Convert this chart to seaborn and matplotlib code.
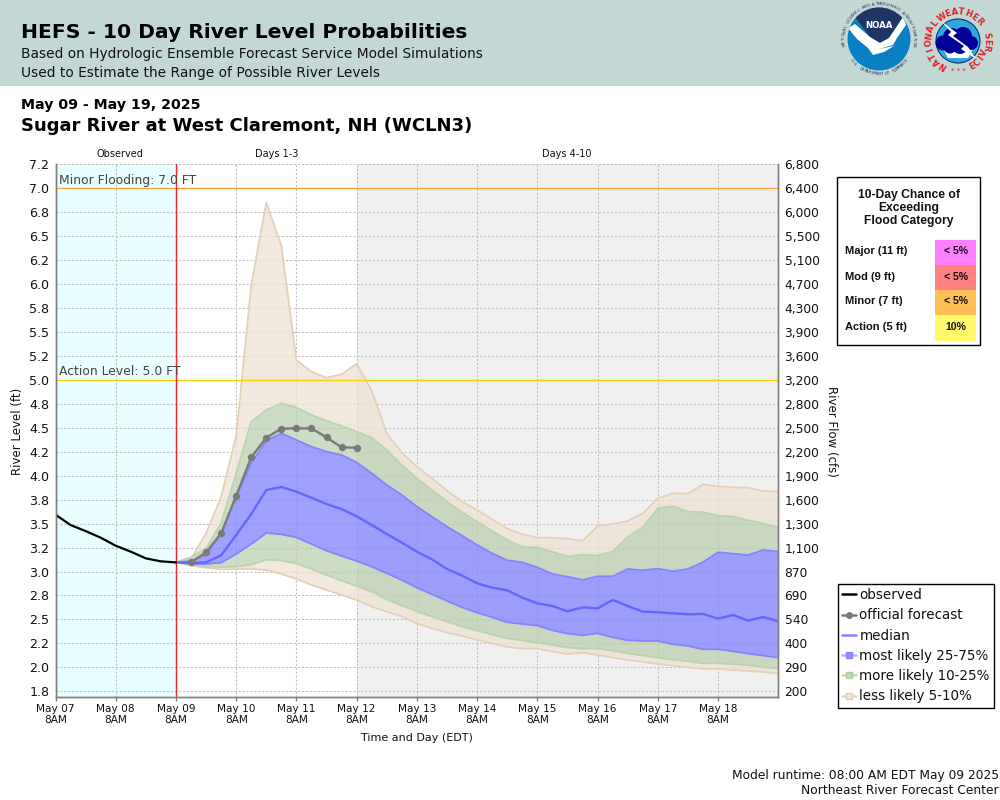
import numpy as np
import pandas as pd
import matplotlib
matplotlib.use("Agg")
import matplotlib.pyplot as plt
import seaborn as sns
from matplotlib.lines import Line2D
from matplotlib.patches import Circle, Polygon, Rectangle

# observed stage every 6 hours from May 07 8AM
observed_level = [3.593, 3.485, 3.422, 3.353, 3.269, 3.207, 3.137, 3.106, 3.095]

# official forecast, every 6 hours from May 09 2PM
official_level = [3.096, 3.20, 3.398, 3.791, 4.192, 4.397, 4.491, 4.494, 4.494, 4.40, 4.296, 4.292]

# ensemble percentiles, every 6 hours from May 09 8AM
p95 = [3.096, 3.13, 3.40, 3.78, 4.41, 5.99, 6.853, 6.397, 5.207, 5.086, 5.023, 5.058, 5.169, 4.887,
       4.442, 4.240, 4.094, 3.972, 3.844, 3.729, 3.642, 3.544, 3.447, 3.391, 3.353, 3.353, 3.343, 3.319,
       3.475, 3.496, 3.527, 3.607, 3.764, 3.816, 3.813, 3.910, 3.889, 3.879, 3.875, 3.840, 3.834]
p90 = [3.096, 3.148, 3.242, 3.503, 4.025, 4.564, 4.686, 4.755, 4.713, 4.633, 4.574, 4.519, 4.459, 4.397,
       4.268, 4.112, 3.972, 3.851, 3.729, 3.618, 3.520, 3.423, 3.329, 3.259, 3.252, 3.207, 3.155, 3.176,
       3.166, 3.207, 3.364, 3.461, 3.660, 3.680, 3.625, 3.621, 3.583, 3.573, 3.534, 3.503, 3.461]
p75 = [3.096, 3.11, 3.172, 3.398, 3.781, 4.129, 4.366, 4.442, 4.372, 4.303, 4.251, 4.216, 4.139, 4.025,
       3.903, 3.799, 3.677, 3.572, 3.468, 3.374, 3.277, 3.190, 3.117, 3.096, 3.044, 2.974, 2.946, 2.912,
       2.950, 2.950, 3.026, 3.012, 3.030, 3.002, 3.026, 3.099, 3.200, 3.186, 3.172, 3.225, 3.207]
median = [3.096, 3.089, 3.096, 3.169, 3.381, 3.600, 3.851, 3.882, 3.833, 3.770, 3.704, 3.652, 3.576, 3.485,
          3.391, 3.301, 3.207, 3.127, 3.026, 2.957, 2.877, 2.831, 2.803, 2.727, 2.668, 2.640, 2.584, 2.626,
          2.616, 2.703, 2.640, 2.581, 2.574, 2.564, 2.553, 2.557, 2.508, 2.546, 2.487, 2.525, 2.480]
p25 = [3.096, 3.078, 3.078, 3.092, 3.182, 3.287, 3.402, 3.388, 3.356, 3.287, 3.217, 3.162, 3.109, 3.05,
       2.981, 2.911, 2.831, 2.762, 2.692, 2.626, 2.570, 2.522, 2.470, 2.452, 2.435, 2.386, 2.351, 2.334,
       2.355, 2.313, 2.282, 2.275, 2.275, 2.240, 2.223, 2.188, 2.188, 2.167, 2.143, 2.122, 2.101]
p10 = [3.096, 3.068, 3.05, 3.047, 3.05, 3.071, 3.123, 3.113, 3.085, 3.026, 2.963, 2.904, 2.848, 2.789,
       2.710, 2.643, 2.584, 2.529, 2.477, 2.424, 2.383, 2.341, 2.303, 2.278, 2.257, 2.233, 2.205, 2.195,
       2.195, 2.174, 2.146, 2.122, 2.101, 2.080, 2.063, 2.042, 2.042, 2.031, 2.024, 2.000, 1.990]
p05 = [3.096, 3.061, 3.04, 3.022, 3.026, 3.029, 3.015, 2.974, 2.922, 2.859, 2.807, 2.755, 2.702, 2.633,
       2.581, 2.529, 2.459, 2.407, 2.362, 2.327, 2.285, 2.250, 2.212, 2.195, 2.195, 2.163, 2.139, 2.153,
       2.129, 2.101, 2.077, 2.056, 2.035, 2.017, 2.000, 1.983, 1.983, 1.972, 1.962, 1.951, 1.934]

level_ticks = [7.25, 7.0, 6.75, 6.5, 6.25, 6.0, 5.75, 5.5, 5.25, 5.0, 4.75, 4.5,
               4.25, 4.0, 3.75, 3.5, 3.25, 3.0, 2.75, 2.5, 2.25, 2.0, 1.75]
flow_labels = ["6,800", "6,400", "6,000", "5,500", "5,100", "4,700", "4,300", "3,900", "3,600", "3,200",
               "2,800", "2,500", "2,200", "1,900", "1,600", "1,300", "1,100", "870", "690", "540", "400", "290", "200"]
day_labels = ["May 07", "May 08", "May 09", "May 10", "May 11", "May 12",
              "May 13", "May 14", "May 15", "May 16", "May 17", "May 18"]

flood_names = ["Major (11 ft)", "Mod (9 ft)", "Minor (7 ft)", "Action (5 ft)"]
flood_chance = ["< 5%", "< 5%", "< 5%", "10%"]
flood_colors = ["#ff80ff", "#ff8080", "#ffbf55", "#fff868"]

TAN = "#ede1d3"
GREEN = "#bbcfb0"
BLUE = "#8888ff"
TAN_EDGE = "#e5d0b8"
GREEN_EDGE = "#bcd4ad"
BLUE_EDGE = "#8484ff"
GRAY = "#808080"
HEADER = "#c3d7d4"

obs_times = pd.date_range("2025-05-07 08:00", periods=len(observed_level), freq="6h")
fc_times = pd.date_range("2025-05-09 08:00", periods=len(median), freq="6h")
official_times = fc_times[1:len(official_level) + 1]
day_ticks = pd.date_range("2025-05-07 08:00", periods=len(day_labels), freq="D")

obs_df = pd.DataFrame({"time": obs_times, "level": observed_level})
official_df = pd.DataFrame({"time": official_times, "level": official_level})
median_df = pd.DataFrame({"time": fc_times, "level": median})

sns.set_theme(style="white")
plt.rcParams["font.family"] = ["DejaVu Sans"]

fig = plt.figure(figsize=(10, 8), dpi=100)

# page furniture is placed in pixels of the 1000x800 picture
page = fig.add_axes([0, 0, 1, 1], zorder=0)
page.set_xlim(0, 1000)
page.set_ylim(800, 0)
page.axis("off")
page.add_patch(Rectangle((0, 0), 1000, 86, color=HEADER, lw=0))
page.text(21, 33, "HEFS - 10 Day River Level Probabilities", fontsize=14.6, fontweight="bold", va="center", color="#000000")
page.text(21, 54, "Based on Hydrologic Ensemble Forecast Service Model Simulations", fontsize=9.9, va="center", color="#111111")
page.text(21, 73, "Used to Estimate the Range of Possible River Levels", fontsize=9.9, va="center", color="#111111")
page.text(21, 105, "May 09 - May 19, 2025", fontsize=10.2, fontweight="bold", va="center", color="#000000")
page.text(21, 126, "Sugar River at West Claremont, NH (WCLN3)", fontsize=13, fontweight="bold", va="center", color="#000000")
page.text(120, 154, "Observed", fontsize=7, ha="center", va="center", color="#111111")
page.text(277, 154, "Days 1-3", fontsize=7, ha="center", va="center", color="#111111")
page.text(567, 154, "Days 4-10", fontsize=7, ha="center", va="center", color="#111111")
page.text(999, 775, "Model runtime: 08:00 AM EDT May 09 2025", fontsize=8.8, ha="right", va="center", color="#111111")
page.text(999, 791, "Northeast River Forecast Center", fontsize=8.8, ha="right", va="center", color="#111111")


def ring_text(cx, cy, r, text, start, end, size, color, weight="normal"):
    # letters spaced along an arc, angles in degrees clockwise from the top
    for ang, ch in zip(np.linspace(start, end, len(text)), text):
        a = np.radians(ang)
        page.text(cx + r * np.sin(a), cy - r * np.cos(a), ch, fontsize=size, color=color, fontweight=weight,
                  rotation=-ang if ang < 110 else 180 - ang, ha="center", va="center", rotation_mode="anchor")


# NOAA seal
cx, cy = 879, 39
disc = Circle((cx, cy), 31.5, color="#0a80c4", lw=0)
page.add_patch(disc)
navy = Polygon([(855, 17), (879, 0), (903, 17), (900, 26), (889, 38), (880, 43), (870, 37)], color="#1f3566", lw=0)
page.add_patch(navy)
navy.set_clip_path(disc)
bird = Polygon([(848, 28), (855, 24), (870, 37), (880, 43), (889, 38), (903, 17), (906, 25), (897, 38), (893, 45),
                (879, 49), (894, 46), (884, 52), (873, 55), (868, 48), (857, 39)], color="white", lw=0)
page.add_patch(bird)
bird.set_clip_path(disc)
page.text(878.5, 25, "NOAA", fontsize=6.2, fontweight="bold", color="white", ha="center", va="center")
ring_text(cx, cy, 35, "NATIONAL OCEANIC AND ATMOSPHERIC ADMINISTRATION", -100, 100, 3, "#26384f")
ring_text(cx, cy, 35, "U.S. DEPARTMENT OF COMMERCE", 232, 128, 3, "#26384f")

# NWS seal
nx, ny = 958, 41
page.add_patch(Circle((nx, ny), 22, facecolor="#2fa8dc", edgecolor="#10306f", lw=0.8))
page.add_patch(Polygon([(942, 47), (974, 47), (968, 58), (948, 58)], color="white", lw=0))
for dx, dy, rad in [(-15, 2, 7.5), (-6, -4, 9), (5, -5, 9), (13, 2, 7), (2, 5, 8), (-8, 6, 6.5)]:
    page.add_patch(Circle((nx + dx, ny + dy), rad, color="#000099", lw=0))
page.add_patch(Polygon([(941, 21), (957, 33), (953, 36), (968, 47), (976, 59), (961, 49), (964, 46), (948, 35), (951, 32)],
                       color="white", lw=0))
ring_text(nx, ny, 29, "NATIONAL", -148, -53, 6, "#e0202a", "bold")
ring_text(nx, ny, 29, "WEATHER", -34, 48, 6, "#e0202a", "bold")
ring_text(nx, ny, 29, "SERVICE", 79, 150, 6, "#e0202a", "bold")
page.text(958, 71, "* * *", fontsize=5, color="#e0202a", ha="center", va="center")

# flood category table
page.add_patch(Rectangle((837, 177), 143, 168, facecolor="white", edgecolor="black", lw=1))
for y, line in zip([195, 208, 221], ["10-Day Chance of", "Exceeding", "Flood Category"]):
    page.text(909, y, line, fontsize=8.7, fontweight="bold", family="Liberation Sans", ha="center", va="center", color="#111111")
for row, (name, chance, col) in enumerate(zip(flood_names, flood_chance, flood_colors)):
    top = 240 + 25 * row
    page.add_patch(Rectangle((935, top), 41, 25 if row < 3 else 26, color=col, lw=0))
    page.text(845, top + 11.5, name, fontsize=8, fontweight="bold", family="Liberation Sans", va="center", color="#111111")
    page.text(956, top + 11.5, chance, fontsize=7.6, fontweight="bold", family="Liberation Sans", ha="center", va="center", color="#111111")

# main chart
ax = fig.add_axes([0.0555, 1 - 697 / 800, 0.7228, (697 - 164.35) / 800], zorder=2)
ax.set_xlim(pd.Timestamp("2025-05-07 08:00"), pd.Timestamp("2025-05-19 08:00"))
ax.set_ylim(1.69, 7.25)
ax.set_facecolor("white")
ax.axvspan(pd.Timestamp("2025-05-07 08:00"), pd.Timestamp("2025-05-09 08:00"), color="#e9ffff", lw=0, zorder=0)
ax.axvspan(pd.Timestamp("2025-05-12 08:00"), pd.Timestamp("2025-05-19 08:00"), color="#f0f0f0", lw=0, zorder=0)
ax.grid(True, color="#bebebe", lw=0.75, ls=(0, (2, 1.8)))
ax.set_axisbelow(True)

for low, high, col in [(p05, p10, TAN), (p90, p95, TAN), (p10, p25, GREEN), (p75, p90, GREEN), (p25, p75, BLUE)]:
    ax.fill_between(fc_times, low, high, color=col, alpha=0.8 if col == BLUE else 0.73, lw=0, zorder=1.5)
for series, edge in [(p95, TAN_EDGE), (p05, TAN_EDGE), (p90, GREEN_EDGE), (p10, GREEN_EDGE), (p75, BLUE_EDGE), (p25, BLUE_EDGE)]:
    ax.plot(fc_times, series, color=edge, lw=1.3, zorder=1.8)

ax.axhline(7.0, color="#ffa033", lw=0.9, zorder=2)
ax.axhline(5.0, color="#ffcc00", lw=0.9, zorder=2)
ax.axvline(pd.Timestamp("2025-05-09 08:00"), color="#ff2020", lw=1, zorder=2)
ax.text(pd.Timestamp("2025-05-07 09:30"), 7.015, "Minor Flooding: 7.0 FT", fontsize=8.95, color="#444444", va="bottom")
ax.text(pd.Timestamp("2025-05-07 09:30"), 5.015, "Action Level: 5.0 FT", fontsize=8.95, color="#444444", va="bottom")

sns.lineplot(data=median_df, x="time", y="level", color="#6666ff", lw=1.7, errorbar=None, ax=ax, zorder=3)
sns.lineplot(data=official_df, x="time", y="level", color="#7a7a7a", lw=1.7, marker="o", markersize=5.3,
             markeredgewidth=0, errorbar=None, ax=ax, zorder=3.2)
sns.lineplot(data=obs_df, x="time", y="level", color="black", lw=1.6, errorbar=None, ax=ax, zorder=3.4)

ax.set_xticks(day_ticks)
ax.set_xticklabels([d + "\n8AM" for d in day_labels], fontsize=7.6, color="#111111", linespacing=1.2)
ax.set_yticks(level_ticks)
ax.set_yticklabels(["%.1f" % v for v in level_ticks], fontsize=9.1, color="#111111")
ax.tick_params(axis="x", length=3.2, width=1, color=GRAY, pad=1.5, bottom=True)
ax.tick_params(axis="y", length=0, pad=4.5, left=False)
ax.set_xlabel("Time and Day (EDT)", fontsize=8, color="#111111", labelpad=6)
ax.set_ylabel("River Level (ft)", fontsize=8.5, color="#111111", va="center")
ax.yaxis.set_label_coords(-0.052, 0.499)
for side in ["left", "right", "bottom"]:
    ax.spines[side].set_color(GRAY)
    ax.spines[side].set_linewidth(1)
ax.spines["top"].set_visible(False)

flow = ax.twinx()
flow.set_ylim(ax.get_ylim())
flow.set_yticks(level_ticks)
flow.set_yticklabels(flow_labels, fontsize=8.8, color="#111111")
flow.tick_params(axis="y", length=0, pad=4.5, right=False)
flow.set_ylabel("River Flow (cfs)", fontsize=8.5, color="#111111", rotation=270, va="center")
flow.yaxis.set_label_coords(1.073, 0.499)
flow.grid(False)
for side in ["left", "right", "bottom"]:
    flow.spines[side].set_color(GRAY)
    flow.spines[side].set_linewidth(1)
flow.spines["top"].set_visible(False)

handles = [
    Line2D([], [], color="black", lw=1.8),
    Line2D([], [], color="#7a7a7a", lw=1.8, marker="o", markersize=5, markeredgewidth=0),
    Line2D([], [], color="#8484ff", lw=1.8),
    Line2D([], [], color="#b4b4ff", lw=1.8, marker="s", markersize=4.8, markerfacecolor="#8f8fff", markeredgecolor="#8484ff"),
    Line2D([], [], color="#c6dcb8", lw=1.8, marker="s", markersize=4.8, markerfacecolor="#c0d8b0", markeredgecolor="#b0cc9e"),
    Line2D([], [], color="#e8d6c2", lw=1.8, marker="s", markersize=4.8, markerfacecolor="#f2e9df", markeredgecolor="#e0cdb6"),
]
labels = ["observed", "official forecast", "median", "most likely 25-75%", "more likely 10-25%", "less likely 5-10%"]
flow.legend(handles, labels, loc="upper left", bbox_to_anchor=(837.5 / 1000, 1 - 583.5 / 800), bbox_transform=fig.transFigure,
            fontsize=9.75, frameon=True, fancybox=False, framealpha=1, edgecolor="black", borderpad=0.35,
            handlelength=1.0, handletextpad=0.26, labelspacing=0.46, borderaxespad=0, labelcolor="#111111")

fig.savefig("out.png", dpi=100)
